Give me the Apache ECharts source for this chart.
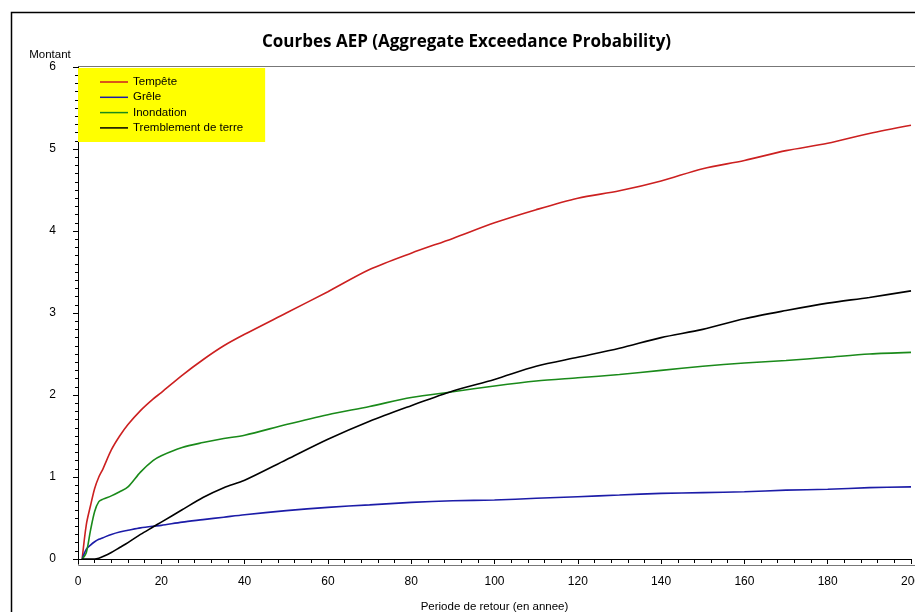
<!DOCTYPE html>
<html>
<head>
<meta charset="utf-8">
<script src="https://cdn.jsdelivr.net/npm/echarts@6/dist/echarts.min.js"></script>
<style>html,body{margin:0;padding:0;background:#fff}#c{width:915px;height:612px}</style>
</head>
<body>
<div id="c"></div>
<script>
const periods = [1,2,3,4,5,6,8,10,12,15,18,20,25,30,35,40,50,60,70,80,90,100,110,120,130,140,150,160,170,180,190,200];
const tempete = [0,0.42,0.65,0.86,1.0,1.1,1.33,1.5,1.64,1.81,1.95,2.03,2.24,2.43,2.6,2.74,3.0,3.26,3.53,3.73,3.91,4.1,4.26,4.4,4.49,4.61,4.76,4.86,4.98,5.07,5.19,5.29];
const grele = [0,0.12,0.17,0.21,0.24,0.26,0.3,0.33,0.35,0.38,0.4,0.41,0.45,0.48,0.51,0.54,0.59,0.63,0.66,0.69,0.71,0.72,0.74,0.76,0.78,0.8,0.81,0.82,0.84,0.85,0.87,0.88];
const inondation = [0,0.08,0.35,0.58,0.7,0.73,0.77,0.82,0.88,1.06,1.2,1.26,1.36,1.42,1.47,1.51,1.64,1.76,1.86,1.97,2.04,2.11,2.17,2.21,2.25,2.3,2.35,2.39,2.42,2.46,2.5,2.52];
const tremblement = [0,0,0,0,0.01,0.03,0.08,0.14,0.2,0.3,0.39,0.45,0.6,0.75,0.87,0.96,1.21,1.46,1.68,1.87,2.05,2.19,2.35,2.46,2.57,2.7,2.8,2.93,3.03,3.12,3.19,3.27];
const seriesNames = ['Tempête','Grêle','Inondation','Tremblement de terre'];
const seriesValues = [tempete, grele, inondation, tremblement];
const colors = ['#cc2020','#1c1ca8','#1a8a1a','#000000'];

const chart = echarts.init(document.getElementById('c'));
const font = 'Liberation Sans, Arial, sans-serif';
chart.setOption({
  animation: false,
  backgroundColor: '#fff',
  title: {
    text: 'Courbes AEP (Aggregate Exceedance Probability)',
    left: 257, top: 29,
    textStyle: {fontFamily: 'Open Sans, Noto Sans, sans-serif', fontWeight: 'bold', fontSize: 17, color: '#000'}
  },
  legend: {
    orient: 'vertical',
    left: 78, top: 68,
    backgroundColor: '#ffff00',
    padding: [8, 22, 8, 22],
    itemGap: 3.3,
    itemWidth: 28, itemHeight: 1.5,
    icon: 'rect',
    textStyle: {fontFamily: font, fontSize: 11.5, color: '#000', lineHeight: 12},
    data: seriesNames
  },
  graphic: [
    {type: 'rect', left: 9, top: 10, shape: {width: 1000, height: 1000}, style: {fill: 'none', stroke: '#000', lineWidth: 1.5}, silent: true},
    {type: 'rect', left: 76, top: 64, shape: {width: 837, height: 499}, style: {fill: 'none', stroke: '#777', lineWidth: 1}, silent: true, z: -1}
  ],
  grid: {left: 78, right: 4, top: 67, bottom: 53, containLabel: false, outerBoundsMode: 'none'},
  xAxis: {
    type: 'value', min: 0, max: 200, interval: 20,
    offset: 4,
    name: 'Periode de retour (en annee)', nameLocation: 'middle', nameGap: 38,
    nameTextStyle: {fontFamily: font, fontSize: 11.5, color: '#000'},
    axisLine: {show: true, lineStyle: {color: '#000', width: 1}},
    axisTick: {show: true, length: 5, lineStyle: {color: '#000'}},
    minorTick: {show: true, splitNumber: 5, length: 4, lineStyle: {color: '#000'}},
    axisLabel: {fontFamily: font, fontSize: 12, color: '#000', margin: 13, showMaxLabel: true, hideOverlap: false},
    splitLine: {show: false}
  },
  yAxis: {
    type: 'value', min: 0, max: 6, interval: 1,
    offset: 2,
    name: 'Montant', nameLocation: 'end', nameGap: 6,
    nameTextStyle: {fontFamily: font, fontSize: 11.5, color: '#000', align: 'center', padding: [0, 0, 0, -56]},
    axisLine: {show: true, lineStyle: {color: '#000', width: 1}},
    axisTick: {show: true, length: 5, lineStyle: {color: '#000'}},
    minorTick: {show: true, splitNumber: 10, length: 3, lineStyle: {color: '#000'}},
    axisLabel: {fontFamily: font, fontSize: 12, color: '#000', margin: 20},
    splitLine: {show: false}
  },
  series: seriesNames.map((n, i) => ({
    name: n, type: 'line', symbol: 'none', smooth: 0.3,
    color: colors[i],
    lineStyle: {width: 1.6, color: colors[i]},
    data: periods.map((p, j) => [p, seriesValues[i][j]])
  }))
});
</script>
</body>
</html>
